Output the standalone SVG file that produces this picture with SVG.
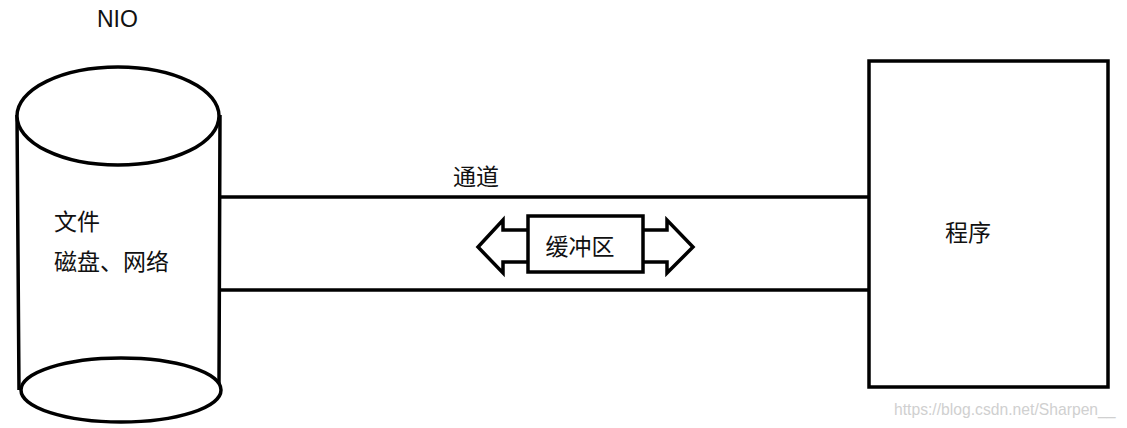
<svg xmlns="http://www.w3.org/2000/svg" width="1127" height="428" viewBox="0 0 1127 428">
<style>
.s{fill:none;stroke:#000;stroke-width:3.5}
.w{fill:#fff;stroke:#000;stroke-width:3.5}
.t{font-family:"Noto Sans CJK SC","Liberation Sans",sans-serif;font-size:23px;fill:#111}
.e{font-family:"Liberation Sans",sans-serif;font-size:23px;fill:#111}
.wm{font-family:"Liberation Sans",sans-serif;font-size:15.7px;fill:#d0d0d0}
</style>
<rect width="1127" height="428" fill="#fff"/>
<text class="e" x="97" y="27">NIO</text>
<g id="connectors">
<line class="s" x1="219" y1="197" x2="868" y2="197"/>
<line class="s" x1="219" y1="290" x2="868" y2="290"/>
<text class="t" x="453" y="185">通道</text>
</g>
<g id="storage">
<path class="s" d="M17,115 L19,390 M220,115 L219,385"/>
<ellipse class="w" cx="118" cy="116" rx="101" ry="49"/>
<ellipse class="w" cx="121" cy="390" rx="100" ry="32"/>
<text class="t" x="54" y="230">文件</text>
<text class="t" x="54" y="270">磁盘、网络</text>
</g>
<g id="program">
<rect class="s" x="869" y="61" width="239" height="326" stroke-width="4"/>
<text class="t" x="945" y="241">程序</text>
</g>
<g id="buffer">
<path class="w" d="M529,230 L503,230 L503,220 L478,247 L503,273 L503,262 L529,262"/>
<path class="w" d="M641,230 L667,230 L667,220 L693,247 L667,273 L667,262 L641,262"/>
<rect class="w" x="528" y="216" width="115" height="56"/>
<text class="t" x="580" y="255" text-anchor="middle">缓冲区</text>
</g>
<text class="wm" x="894" y="415">https://blog.csdn.net/Sharpen__</text>
</svg>
